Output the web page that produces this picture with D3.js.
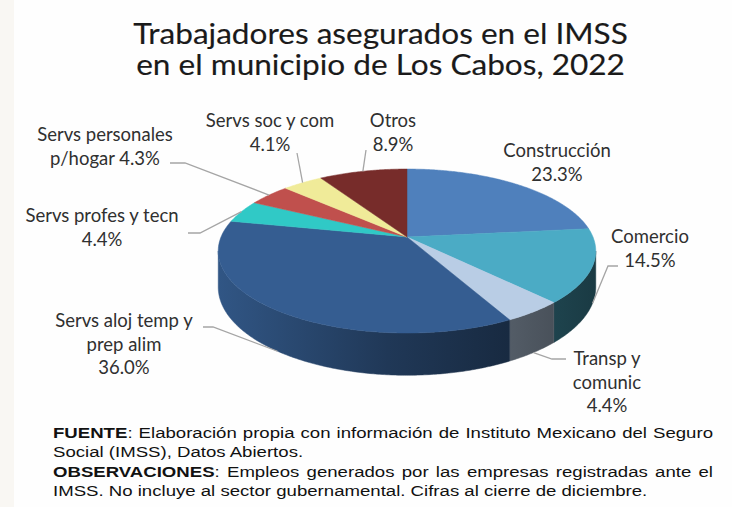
<!DOCTYPE html>
<html><head><meta charset="utf-8">
<script src="https://cdn.jsdelivr.net/npm/d3@7"></script>
<style>body{margin:0;background:#fff}svg{display:block}</style>
</head><body><svg id="c" width="732" height="507"></svg>
<script>
// ---------- data ----------
const categories = ["Construcción","Comercio","Transp y comunic","Servs aloj temp y prep alim","Servs profes y tecn","Servs personales p/hogar","Servs soc y com","Otros"];
const values = [23.3, 14.5, 4.4, 36.0, 4.4, 4.3, 4.1, 8.9];
const labelNameLines = [["Construcción"],["Comercio"],["Transp y","comunic"],["Servs aloj temp y","prep alim"],["Servs profes y tecn"],["Servs personales","p/hogar"],["Servs soc y com"],["Otros"]];
const percentInline = [false,false,false,false,false,true,false,false];
const colors = ["#4f80bc","#4babc5","#b9cde5","#355d91","#30c9c6","#c0504d","#f0eb99","#772c2a"];
const titleLines = ["Trabajadores asegurados en el IMSS","en el municipio de Los Cabos, 2022"];
const footLines = [
  [["FUENTE",true],[": Elaboración propia con información de Instituto Mexicano del Seguro",false]],
  [["Social (IMSS), Datos Abiertos.",false]],
  [["OBSERVACIONES",true],[": Empleos generados por las empresas registradas ante el",false]],
  [["IMSS. No incluye al sector gubernamental. Cifras al cierre de diciembre.",false]]
];
const footJustify = [true,false,true,false];

// ---------- layout ----------
const labelPos = [[557,157],[650,243],[607,365],[124,327],[102,222],[105,141],[270,127],[393,127]];
const leaderPts = [null,[[608,266],[618,266]],[[552,359],[566,359]],[[213,327],[203,327]],[[200,233],[188,233]],[[185,163],[170,163]],[[297,153]],[[366,150]]];

const svg = d3.select("#c");
svg.append("rect").attr("width",732).attr("height",507).attr("fill","#fefefe");
svg.append("rect").attr("width",14).attr("height",507).attr("fill","#f9f7f3");

// perspective pie geometry
const cx=407, cy=237, A=186, B=79.6, K=0.171, D=35;
const xs = d3.scaleLinear().domain([-1,1]).range([cx-A, cx+A]);
const ys = d3.scaleLinear().domain([-1,1]).range([cy-B, cy+B]);
function proj(t, depth){
  const u=Math.sin(t), v=-Math.cos(t), s=1/(1-K*v);
  return [xs(u*s), ys(v*s)+depth*D*s];
}
function arcPts(a0,a1,depth){
  const n=Math.max(2,Math.ceil((a1-a0)/0.01));
  return d3.range(n+1).map(i=>proj(a0+(a1-a0)*i/n,depth));
}
const arcs = d3.pie().sort(null).value(d=>d)(values);
const tMin = Math.acos(-K), tMax = 2*Math.PI - Math.acos(-K);
const line = d3.line();

// gradients for walls
const defs = svg.append("defs");
function shade(c,f){const r=d3.rgb(c);return d3.rgb(r.r*f,r.g*f,r.b*f).formatHex();}
arcs.forEach((a,i)=>{
  const g=defs.append("linearGradient").attr("id","w"+i).attr("gradientUnits","userSpaceOnUse")
    .attr("x1",cx-A-4).attr("x2",cx+A+4).attr("y1",0).attr("y2",0);
  [[0,0.92],[0.45,0.6],[1,0.34]].forEach(([o,f])=>g.append("stop").attr("offset",o).attr("stop-color",shade(colors[i],f)));
});

// walls
arcs.forEach((a,i)=>{
  const a0=Math.max(a.startAngle,tMin), a1=Math.min(a.endAngle,tMax);
  if(a1<=a0) return;
  const pts = arcPts(a0,a1,0).concat(arcPts(a0,a1,1).reverse());
  svg.append("path").attr("d",line(pts)+"Z").attr("fill","url(#w"+i+")").attr("stroke","url(#w"+i+")").attr("stroke-width",0.5);
});
// top faces
arcs.forEach((a,i)=>{
  const pts=[[xs(0),ys(0)]].concat(arcPts(a.startAngle,a.endAngle,0));
  svg.append("path").attr("d",line(pts)+"Z").attr("fill",colors[i]).attr("stroke",colors[i]).attr("stroke-width",0.5);
});

// leader lines
arcs.forEach((a,i)=>{
  if(!leaderPts[i]) return;
  const m=(a.startAngle+a.endAngle)/2;
  const onWall = m>tMin && m<tMax;
  const p = proj(m, onWall?1:0);
  svg.append("path").attr("d",line([p].concat(leaderPts[i]))).attr("fill","none")
    .attr("stroke","#a5a5a5").attr("stroke-width",1.3);
});

// labels
const fmt = d3.format(".1f");
const lh = 23.5;
arcs.forEach((a,i)=>{
  const lines = labelNameLines[i].slice();
  const pct = fmt(values[i])+"%";
  if(percentInline[i]) lines[lines.length-1] += " "+pct; else lines.push(pct);
  const t = svg.append("text").attr("x",labelPos[i][0]).attr("y",labelPos[i][1])
    .attr("text-anchor","middle").attr("font-family","Lato, 'Open Sans', sans-serif")
    .attr("font-size",18.5).attr("fill","#303030");
  lines.forEach((l,j)=>t.append("tspan").attr("x",labelPos[i][0]).attr("dy",j?lh:0).text(l));
});

// title (single text element, horizontally fitted to the reference width)
const tg = svg.append("g");
const tt = tg.append("text").attr("x",0).attr("y",0).attr("text-anchor","middle")
  .attr("font-family","Lato, sans-serif").attr("font-size",29).attr("font-weight",400)
  .attr("fill","#1a1a1a").attr("stroke","#1a1a1a").attr("stroke-width",0.15);
titleLines.forEach((l,j)=>tt.append("tspan").attr("x",0).attr("dy",j?31:0).text(l));
const t1w = tt.select("tspan").node().getComputedTextLength();
tg.attr("transform",`translate(380.5,44) scale(${495/t1w},1)`);

// footer (Arial-like, stretched horizontally like the reference, lines 1 and 3 justified)
const fx=53, fw=660, fy=[438,457.5,477,496.5];
const fg = svg.append("g");
const ftexts = footLines.map((segs,j)=>{
  const t=fg.append("text").attr("x",0).attr("y",fy[j]).attr("font-family","'Liberation Sans', Arial, sans-serif")
    .attr("font-size",15.5).attr("fill","#111");
  segs.forEach(([s,b])=>t.append("tspan").attr("font-weight",b?700:400).text(s));
  return t;
});
const sx = 595/ftexts[3].node().getComputedTextLength();
fg.attr("transform",`translate(${fx},0) scale(${sx},1)`);
ftexts.forEach((t,j)=>{
  if(!footJustify[j]) return;
  const w=t.node().getComputedTextLength();
  const spaces=footLines[j].map(s=>s[0]).join("").split(" ").length-1;
  t.attr("word-spacing",(fw/sx - w)/spaces);
});
</script></body></html>
